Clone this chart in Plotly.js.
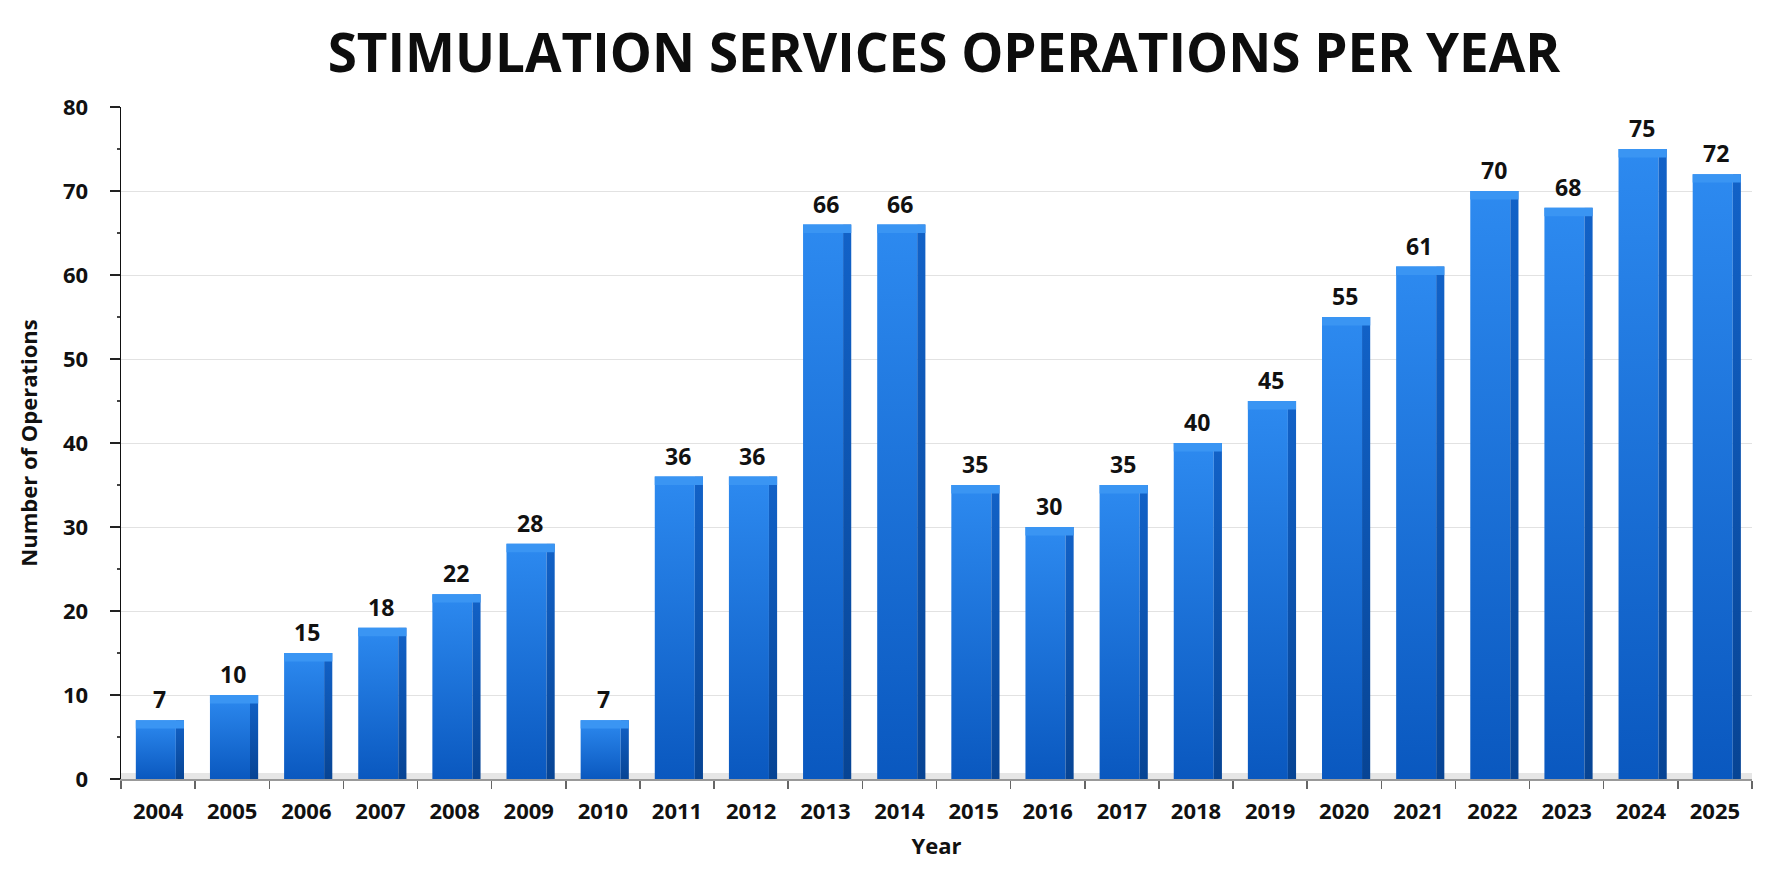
<!DOCTYPE html>
<html>
<head>
<meta charset="utf-8">
<script src="https://cdn.plot.ly/plotly-3.0.1.min.js"></script>
<style>
  html, body { margin: 0; padding: 0; background: #ffffff; }
  #chart { width: 1773px; height: 887px; }
</style>
</head>
<body>
<div id="chart"></div>
<script>
// ---- data ----
var years = ["2004","2005","2006","2007","2008","2009","2010","2011","2012","2013","2014",
             "2015","2016","2017","2018","2019","2020","2021","2022","2023","2024","2025"];
var operations = [7, 10, 15, 18, 22, 28, 7, 36, 36, 66, 66, 35, 30, 35, 40, 45, 55, 61, 70, 68, 75, 72];
var yTickValues = [0, 10, 20, 30, 40, 50, 60, 70, 80];
var chartTitle = "STIMULATION SERVICES OPERATIONS PER YEAR";
var xTitle = "Year";
var yTitle = "Number of Operations";

// ---- styling ----
var FONT = "Open Sans, DejaVu Sans, sans-serif";
var capDepth = 1.0; // depth of the lighter top face, in axis units

var frontTrace = {
  type: "bar", x: years, y: operations,
  width: 0.54, offset: -0.30,
  marker: { color: "#1a6fd8", line: { width: 0 } },
  hoverinfo: "x+y", name: "front"
};
var sideTrace = {
  type: "bar", x: years, y: operations,
  width: 0.11, offset: 0.24,
  marker: { color: "#0b50b0", line: { width: 0 } },
  hoverinfo: "skip", name: "side"
};
var capTrace = {
  type: "bar", x: years,
  y: operations.map(function () { return capDepth; }),
  base: operations.map(function (v) { return v - capDepth; }),
  width: 0.65, offset: -0.30,
  marker: { color: "#3a95f3", line: { width: 0 } },
  hoverinfo: "skip", name: "top"
};

// value labels above each bar (x = category index on the category axis)
var valueLabels = years.map(function (yr, i) {
  return {
    xref: "x", yref: "y", x: i, y: operations[i],
    text: "<b>" + operations[i] + "</b>", showarrow: false,
    xanchor: "center", yanchor: "bottom", yshift: 3, xshift: 1,
    font: { family: FONT, size: 23, color: "#111111" }
  };
});

var layout = {
  width: 1773, height: 887,
  paper_bgcolor: "#ffffff", plot_bgcolor: "#ffffff",
  showlegend: false,
  barmode: "overlay",
  margin: { l: 121, r: 21, t: 107, b: 108 },
  font: { family: FONT, color: "#111111" },
  title: {
    text: "<b>" + chartTitle + "</b>",
    font: { family: FONT, size: 53, color: "#0d0d0d" },
    x: 944 / 1773, xanchor: "center", xref: "container",
    y: 1 - 53 / 887, yanchor: "middle", yref: "container"
  },
  xaxis: {
    type: "category",
    range: [-0.5, 21.5],
    tickson: "boundaries",
    ticks: "outside", ticklen: 8, tickcolor: "#666666", tickwidth: 1.5,
    showline: true, linecolor: "#999999", linewidth: 1.5,
    showgrid: false,
    tickfont: { family: FONT, size: 22, color: "#111111", weight: 700 },
    ticklabelstandoff: 12,
    title: { text: "<b>" + xTitle + "</b>", font: { family: FONT, size: 22, color: "#111111" }, standoff: 14 },
    fixedrange: true
  },
  yaxis: {
    range: [0, 80],
    tickvals: yTickValues,
    ticks: "outside", ticklen: 10, tickcolor: "#222222", tickwidth: 1.5,
    minor: { dtick: 5, ticks: "outside", ticklen: 3, tickcolor: "#444444", showgrid: false },
    showline: true, linecolor: "#111111", linewidth: 1.5,
    showgrid: true, gridcolor: "#e2e2e2", gridwidth: 1,
    zeroline: false,
    tickfont: { family: FONT, size: 22, color: "#111111", weight: 700 },
    ticklabelstandoff: 17,
    title: { text: "<b>" + yTitle + "</b>", font: { family: FONT, size: 22, color: "#111111" }, standoff: 19 },
    fixedrange: true
  },
  shapes: [
    { type: "rect", xref: "paper", yref: "y", x0: 0, x1: 1, y0: 0, y1: 0.7,
      fillcolor: "#e6e6e6", line: { width: 0 }, layer: "below" }
  ],
  annotations: valueLabels.concat([
    { xref: "paper", yref: "y", x: 0, y: 80.6, text: "", showarrow: true,
      ax: 0, ay: 14, arrowhead: 2, arrowsize: 0.9, arrowwidth: 1.5, arrowcolor: "#111111" }
  ])
};

Plotly.newPlot("chart", [frontTrace, sideTrace, capTrace], layout,
  { displayModeBar: false, staticPlot: true }).then(function (gd) {
  // vertical gradients for a glossy look
  var svg = gd.querySelector("svg.main-svg");
  var ns = "http://www.w3.org/2000/svg";
  var defs = document.createElementNS(ns, "defs");
  function grad(id, c1, c2) {
    var g = document.createElementNS(ns, "linearGradient");
    g.setAttribute("id", id);
    g.setAttribute("x1", "0"); g.setAttribute("y1", "0");
    g.setAttribute("x2", "0"); g.setAttribute("y2", "1");
    var s1 = document.createElementNS(ns, "stop");
    s1.setAttribute("offset", "0"); s1.setAttribute("stop-color", c1);
    var s2 = document.createElementNS(ns, "stop");
    s2.setAttribute("offset", "1"); s2.setAttribute("stop-color", c2);
    g.appendChild(s1); g.appendChild(s2); defs.appendChild(g);
  }
  grad("gFront", "#2d8af0", "#0a58bf");
  grad("gSide", "#1262c8", "#074494");
  svg.insertBefore(defs, svg.firstChild);
  var traces = gd.querySelectorAll(".barlayer .trace");
  if (traces.length >= 2) {
    traces[0].querySelectorAll("path").forEach(function (p) { p.style.fill = "url(#gFront)"; });
    traces[1].querySelectorAll("path").forEach(function (p) { p.style.fill = "url(#gSide)"; });
  }
});
</script>
</body>
</html>
